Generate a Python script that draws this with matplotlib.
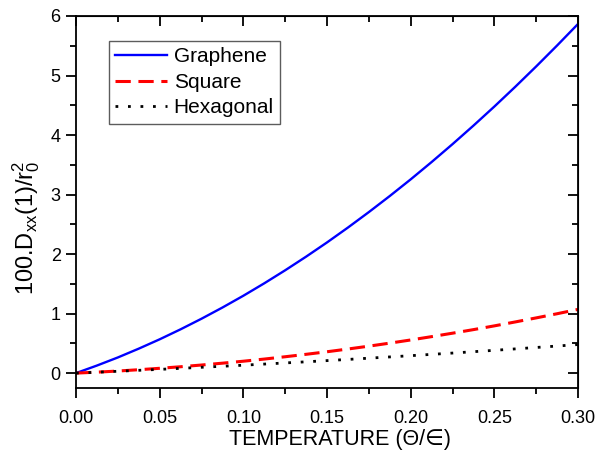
import matplotlib
matplotlib.use("Agg")
import matplotlib.pyplot as plt
from matplotlib.ticker import MultipleLocator, FormatStrFormatter

plt.rcParams["font.family"] = ["Liberation Sans", "DejaVu Sans"]
plt.rcParams["mathtext.fontset"] = "custom"
plt.rcParams["mathtext.rm"] = "Liberation Sans"
plt.rcParams["mathtext.it"] = "Liberation Sans"

# temperature grid (Theta / epsilon)
temperature = [0.0, 0.0125, 0.025, 0.0375, 0.05, 0.0625, 0.075, 0.0875, 0.10, 0.1125,
               0.125, 0.1375, 0.15, 0.1625, 0.175, 0.1875, 0.20, 0.2125, 0.225, 0.2375,
               0.25, 0.2625, 0.275, 0.2875, 0.30]
graphene = [0.0, 0.127, 0.263, 0.411, 0.568, 0.736, 0.914, 1.102, 1.300, 1.509,
            1.728, 1.957, 2.196, 2.446, 2.706, 2.976, 3.256, 3.547, 3.848, 4.159,
            4.480, 4.812, 5.154, 5.506, 5.868]
square = [0.0, 0.016, 0.035, 0.057, 0.081, 0.107, 0.136, 0.167, 0.200, 0.236,
          0.275, 0.316, 0.359, 0.405, 0.453, 0.504, 0.557, 0.613, 0.671, 0.731,
          0.794, 0.860, 0.928, 0.998, 1.071]
hexagonal = [0.0, 0.015, 0.031, 0.047, 0.063, 0.080, 0.098, 0.115, 0.133, 0.152,
             0.171, 0.190, 0.210, 0.230, 0.251, 0.272, 0.293, 0.315, 0.337, 0.360,
             0.383, 0.407, 0.431, 0.455, 0.480]

fig = plt.figure(figsize=(5.96, 4.53), dpi=100)
ax = fig.add_axes([0.1275, 0.1435, 0.8425, 0.8212])

ax.plot(temperature, graphene, color="#0000ff", lw=1.7, label="Graphene")
ax.plot(temperature, square, color="#ff0000", lw=2.2, dashes=(5, 2.5), label="Square")
ax.plot(temperature, hexagonal, color="black", lw=2.0, dashes=(1, 3.5), label="Hexagonal")

ax.set_xlim(0, 0.30)
ax.set_ylim(-0.25, 6)
ax.xaxis.set_major_locator(MultipleLocator(0.05))
ax.xaxis.set_minor_locator(MultipleLocator(0.025))
ax.yaxis.set_major_locator(MultipleLocator(1))
ax.yaxis.set_minor_locator(MultipleLocator(0.5))
ax.xaxis.set_major_formatter(FormatStrFormatter("%.2f"))

for sp in ax.spines.values():
    sp.set_linewidth(1.3)
ax.tick_params(which="major", direction="out", length=7.5, width=1.3, labelsize=13)
ax.tick_params(which="minor", direction="out", length=4, width=1.3)
ax.tick_params(axis="x", which="major", pad=8.5)
ax.tick_params(axis="y", which="major", pad=3.5)

# mirrored ticks pointing inward on top/right
top = ax.secondary_xaxis("top")
top.xaxis.set_major_locator(MultipleLocator(0.05))
top.xaxis.set_minor_locator(MultipleLocator(0.025))
top.tick_params(which="major", direction="in", length=7.5, width=1.3, labeltop=False)
top.tick_params(which="minor", direction="in", length=4, width=1.3)
right = ax.secondary_yaxis("right")
right.yaxis.set_major_locator(MultipleLocator(1))
right.yaxis.set_minor_locator(MultipleLocator(0.5))
right.tick_params(which="major", direction="in", length=7.5, width=1.3, labelright=False)
right.tick_params(which="minor", direction="in", length=4, width=1.3)

ax.set_xlabel("TEMPERATURE (\u0398/\u2208)", fontsize=15.5)
ax.xaxis.set_label_coords(0.526, -0.11)
ax.set_ylabel(r"100.D$_{\mathregular{xx}}$(1)/r$_{\mathregular{0}}^{\mathregular{2}}$", fontsize=17)
ax.yaxis.set_label_coords(-0.068, 0.43)

leg = ax.legend(loc="upper left", bbox_to_anchor=(0.066, 0.933), fontsize=15,
                frameon=True, fancybox=False, edgecolor="#333333", handlelength=2.5,
                borderaxespad=0, labelspacing=0.32, handletextpad=0.3, borderpad=0.3)
leg.get_frame().set_linewidth(1.0)

fig.savefig("out.png", dpi=100)
